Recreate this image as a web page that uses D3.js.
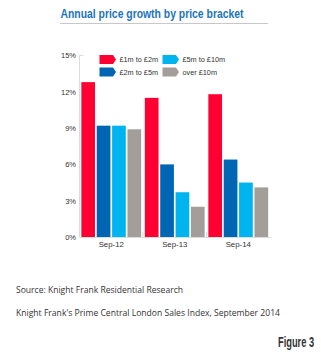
<!DOCTYPE html>
<html>
<head>
<meta charset="utf-8">
<script src="https://cdn.jsdelivr.net/npm/d3@7"></script>
<style>
  html, body { margin: 0; padding: 0; background: #fff; }
  svg { display: block; }
</style>
</head>
<body>
<svg id="chart" width="321" height="355"></svg>
<script>
// Annual price growth (%) by price bracket, Prime Central London
const categories = ["Sep-12", "Sep-13", "Sep-14"];
const brackets = ["£1m to £2m", "£2m to £5m", "£5m to £10m", "over £10m"];
const growth1to2 = [12.8, 11.5, 11.8];
const growth2to5 = [9.2, 6.0, 6.4];
const growth5to10 = [9.2, 3.7, 4.5];
const growthOver10 = [8.9, 2.5, 4.1];
const yTicks = [0, 3, 6, 9, 12, 15];
const colors = ["#ff0033", "#0066b4", "#00b4f0", "#a39e9a"];

const seriesValues = [growth1to2, growth2to5, growth5to10, growthOver10];
const rows = categories.map((c, i) => ({
  category: c,
  values: brackets.map((b, j) => ({ bracket: b, value: seriesValues[j][i] }))
}));

const svg = d3.select("#chart");
const margin = { left: 79.5, right: 51, top: 55.5, bottom: 118 };
const W = 321, H = 355;

const x = d3.scaleBand().domain(categories).range([margin.left, W - margin.right]);
const xInner = d3.scaleBand().domain(brackets).range([0, x.bandwidth()]).paddingInner(0.11).paddingOuter(0.12);
const y = d3.scaleLinear().domain([0, 15]).range([H - margin.bottom, margin.top]);

// Title and rule beneath it
svg.append("text")
  .attr("x", 60.5).attr("y", 18)
  .attr("font-family", "Liberation Sans, Arial, sans-serif")
  .attr("font-size", 12).attr("font-weight", "bold")
  .attr("fill", "#1b75bc")
  .attr("textLength", 183).attr("lengthAdjust", "spacingAndGlyphs")
  .text("Annual price growth by price bracket");
svg.append("line")
  .attr("x1", 60).attr("x2", 268).attr("y1", 23.5).attr("y2", 23.5)
  .attr("stroke", "#c8c8c8").attr("stroke-width", 1);

// Y axis
const yAxis = svg.append("g");
yAxis.append("line")
  .attr("x1", margin.left).attr("x2", margin.left)
  .attr("y1", y(15)).attr("y2", y(0))
  .attr("stroke", "#dcdcdc");
yAxis.append("line")
  .attr("x1", margin.left).attr("x2", margin.left + 4)
  .attr("y1", y(15)).attr("y2", y(15))
  .attr("stroke", "#dcdcdc");
yAxis.selectAll("text").data(yTicks).join("text")
  .attr("x", 76).attr("y", d => y(d) + 2.8)
  .attr("text-anchor", "end")
  .attr("font-family", "Liberation Sans, Arial, sans-serif")
  .attr("font-size", 7.5).attr("fill", "#333")
  .text(d => d + "%");

// Bars
const groups = svg.append("g").selectAll("g").data(rows).join("g")
  .attr("transform", d => `translate(${x(d.category)},0)`);
groups.selectAll("rect").data(d => d.values).join("rect")
  .attr("x", d => xInner(d.bracket))
  .attr("width", xInner.bandwidth())
  .attr("y", d => y(d.value))
  .attr("height", d => y(0) - y(d.value))
  .attr("fill", (d, i) => colors[i]);

// X axis baseline, boundary ticks and labels
const xAxis = svg.append("g");
xAxis.append("line")
  .attr("x1", margin.left).attr("x2", W - margin.right + 1)
  .attr("y1", y(0) + 0.5).attr("y2", y(0) + 0.5)
  .attr("stroke", "#dcdcdc");
xAxis.selectAll("line.tick").data(categories.slice(1)).join("line")
  .attr("class", "tick")
  .attr("x1", d => x(d)).attr("x2", d => x(d))
  .attr("y1", y(0)).attr("y2", y(0) - 5)
  .attr("stroke", "#dcdcdc");
xAxis.selectAll("text").data(categories).join("text")
  .attr("x", d => x(d) + x.bandwidth() / 2)
  .attr("y", y(0) + 10)
  .attr("text-anchor", "middle")
  .attr("font-family", "Liberation Sans, Arial, sans-serif")
  .attr("font-size", 7.8).attr("fill", "#333")
  .text(d => d);

// Legend with arrow-shaped swatches
const legendPos = [[99.5, 55], [99.5, 67.5], [162.5, 55], [162.5, 67.5]];
const legend = svg.append("g").selectAll("g").data(brackets).join("g")
  .attr("transform", (d, i) => `translate(${legendPos[i][0]},${legendPos[i][1]})`);
const sw = 16.5, sh = 9;
legend.append("path")
  .attr("d", `M0,0 H${sw - 3} L${sw},${sh / 2} L${sw - 3},${sh} H0 Z`)
  .attr("fill", (d, i) => colors[i]);
legend.append("text")
  .attr("x", 20).attr("y", 7.3)
  .attr("font-family", "Liberation Sans, Arial, sans-serif")
  .attr("font-size", 7.3).attr("fill", "#333")
  .text(d => d);

// Source notes
const notes = [
  { text: "Source: Knight Frank Residential Research", y: 293, len: 167 },
  { text: "Knight Frank's Prime Central London Sales Index, September 2014", y: 315.5, len: 264 }
];
svg.selectAll("text.note").data(notes).join("text")
  .attr("class", "note")
  .attr("x", 16).attr("y", d => d.y)
  .attr("font-family", "Open Sans, sans-serif")
  .attr("font-size", 8.5).attr("fill", "#333")
  .attr("textLength", d => d.len).attr("lengthAdjust", "spacingAndGlyphs")
  .text(d => d.text);

// Figure label, horizontally condensed
svg.append("text")
  .attr("transform", "translate(278,346.5) scale(0.62,1)")
  .attr("font-family", "Liberation Sans, Arial, sans-serif")
  .attr("font-size", 15).attr("font-weight", "bold").attr("fill", "#333")
  .text("Figure 3");
</script>
</body>
</html>
